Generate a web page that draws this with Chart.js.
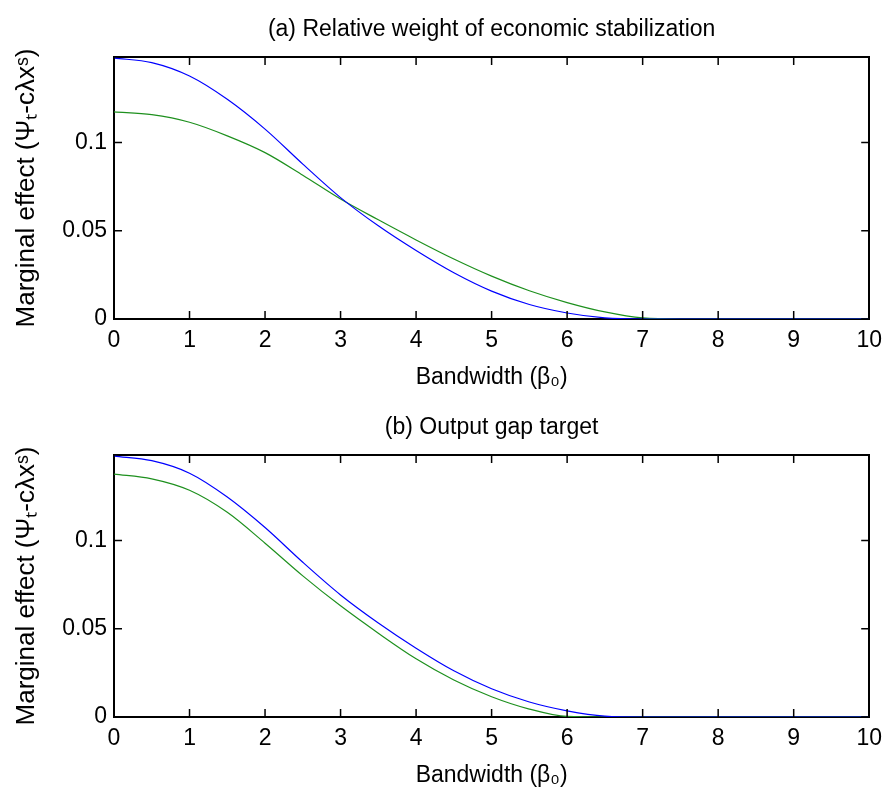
<!DOCTYPE html>
<html>
<head>
<meta charset="utf-8">
<script src="https://cdn.jsdelivr.net/npm/chart.js@4.4.1/dist/chart.umd.min.js"></script>
<style>
  html, body { margin: 0; padding: 0; background: #fff; overflow: hidden; }
  canvas { position: absolute; left: 0; }
  #chartA { top: 0; }
  #chartB { top: 398px; }
</style>
</head>
<body>
<canvas id="chartA" width="890" height="397"></canvas>
<canvas id="chartB" width="890" height="397"></canvas>
<script>
// bandwidth grid (beta_0)
var bandwidth = [0, 0.5, 1, 1.5, 2, 2.5, 3, 3.5, 4, 4.5, 5, 5.5, 6, 6.5, 7, 7.5, 8, 8.5, 9, 9.5, 10];

// (a) relative weight of economic stabilization
var weightBlue  = [0.1479, 0.1453, 0.1377, 0.1245, 0.1076, 0.0878, 0.0688, 0.0528, 0.0388, 0.0262, 0.0158, 0.0082, 0.0034, 0.0006, 0, 0, 0, 0, 0, 0, 0];
var weightGreen = [0.1174, 0.1158, 0.1115, 0.1038, 0.0943, 0.0815, 0.0680, 0.0562, 0.0448, 0.0340, 0.0243, 0.0160, 0.0093, 0.0040, 0.0006, 0, 0, 0, 0, 0, 0];

// (b) output gap target
var gapBlue  = [0.1479, 0.1453, 0.1382, 0.1247, 0.1074, 0.0877, 0.0692, 0.0533, 0.0390, 0.0262, 0.0160, 0.0085, 0.0035, 0.0005, 0, 0, 0, 0, 0, 0, 0];
var gapGreen = [0.1377, 0.1350, 0.1285, 0.1160, 0.0985, 0.0800, 0.0630, 0.0475, 0.0330, 0.0210, 0.0115, 0.0045, 0.0003, 0, 0, 0, 0, 0, 0, 0, 0];

var xTicks = [0, 1, 2, 3, 4, 5, 6, 7, 8, 9, 10];
var yTicks = [0, 0.05, 0.1];
var yMax = 0.1485;

var xTitle = 'Bandwidth (β₀)';
var yTitle = 'Marginal effect (Ψₜ-cλxˢ)';

var font = { family: "'Liberation Sans', Arial, sans-serif", size: 23 };
var yTitleFont = { family: "'Liberation Sans', Arial, sans-serif", size: 26 };

// matlab style ticks pointing into the box on all four sides
var inwardTicks = {
    id: 'inwardTicks',
    afterDraw: function (chart) {
        var ctx = chart.ctx, a = chart.chartArea;
        var x = chart.scales.x, y = chart.scales.y;
        ctx.save();
        ctx.strokeStyle = '#000';
        ctx.lineWidth = 1.5;
        ctx.beginPath();
        xTicks.forEach(function (v) {
            var px = x.getPixelForValue(v);
            ctx.moveTo(px, a.bottom); ctx.lineTo(px, a.bottom - 8);
            ctx.moveTo(px, a.top); ctx.lineTo(px, a.top + 8);
        });
        yTicks.forEach(function (v) {
            var py = y.getPixelForValue(v);
            ctx.moveTo(a.left, py); ctx.lineTo(a.left + 8, py);
            ctx.moveTo(a.right, py); ctx.lineTo(a.right - 8, py);
        });
        ctx.stroke();
        ctx.restore();
    }
};

function toPoints(ys) {
    return bandwidth.map(function (b, i) { return { x: b, y: ys[i] }; });
}

function makeChart(id, title, blue, green) {
    var border = { display: true, color: '#000', width: 2 };
    var noGrid = { display: false, drawTicks: false };
    return new Chart(document.getElementById(id).getContext('2d'), {
        type: 'line',
        data: {
            datasets: [{
                data: toPoints(blue),
                borderColor: '#0000ff',
                borderWidth: 1.2,
                pointRadius: 0,
                cubicInterpolationMode: 'monotone'
            }, {
                data: toPoints(green),
                borderColor: '#1e901e',
                borderWidth: 1.2,
                pointRadius: 0,
                cubicInterpolationMode: 'monotone'
            }]
        },
        options: {
            responsive: false,
            animation: false,
            layout: { padding: 0 },
            plugins: { legend: { display: false }, tooltip: { enabled: false } },
            scales: {
                x: {
                    type: 'linear', position: 'bottom', min: 0, max: 10, z: 1,
                    afterFit: function (s) { s.height = 78; },
                    afterBuildTicks: function (s) { s.ticks = xTicks.map(function (v) { return { value: v }; }); },
                    ticks: { color: '#000', font: font, padding: 8, maxRotation: 0, autoSkip: false },
                    grid: noGrid,
                    border: border,
                    title: { display: true, text: xTitle, color: '#000', font: font, padding: { top: 0, bottom: 6 } }
                },
                x2: {
                    type: 'linear', position: 'top', min: 0, max: 10, z: 1,
                    afterFit: function (s) { s.height = 57; },
                    ticks: { display: false },
                    grid: noGrid,
                    border: border,
                    title: { display: true, text: title, color: '#000', font: font, padding: { top: 16, bottom: 0 } }
                },
                y: {
                    type: 'linear', position: 'left', min: 0, max: yMax, z: 1,
                    afterFit: function (s) { s.width = 114; },
                    afterBuildTicks: function (s) { s.ticks = yTicks.map(function (v) { return { value: v }; }); },
                    ticks: {
                        color: '#000', font: font, padding: 7,
                        callback: function (v) { return String(Math.round(v * 100) / 100); }
                    },
                    grid: noGrid,
                    border: border,
                    title: { display: true, text: yTitle, color: '#000', font: yTitleFont, padding: { top: 11, bottom: 0 } }
                },
                y2: {
                    type: 'linear', position: 'right', min: 0, max: yMax, z: 1,
                    afterFit: function (s) { s.width = 15; },
                    ticks: { display: false },
                    grid: noGrid,
                    border: border
                }
            }
        },
        plugins: [inwardTicks]
    });
}

makeChart('chartA', '(a) Relative weight of economic stabilization', weightBlue, weightGreen);
makeChart('chartB', '(b) Output gap target', gapBlue, gapGreen);
</script>
</body>
</html>
